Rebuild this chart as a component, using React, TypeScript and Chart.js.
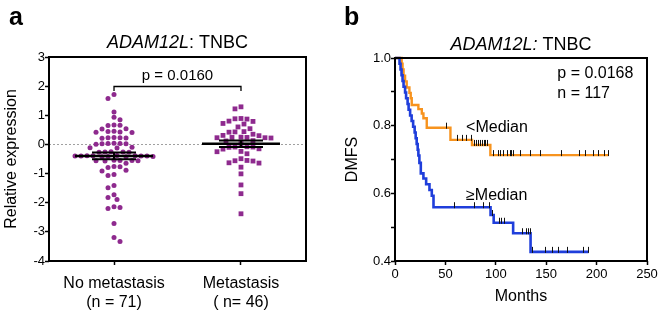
import React, { useEffect, useRef } from 'react';
import { Chart, registerables } from 'chart.js';

Chart.register(...registerables);

const FONT = "'Liberation Sans', Arial, Helvetica, sans-serif";
const PURPLE = '#8E2A8E';
const ORANGE = '#F7931E';
const BLUE = '#1F3EDB';

// ---------- Panel a : scatter (relative expression) ----------
const groupLabels: string[][] = [['No metastasis', '(n = 71)'], ['Metastasis', '( n= 46)']];
const noMetastasis: number[] = [
  1.71, 1.58, 1.11, 0.93, 0.85, 0.67, 0.66, 0.65, 0.54, 0.53,
  0.45, 0.44, 0.43, 0.42, 0.41, 0.24, 0.23, 0.23, 0.22, 0.21,
  0.04, 0.03, 0.03, 0.02, 0.02, 0.01, -0.1, -0.11, -0.12,
  -0.25, -0.26, -0.26, -0.27, -0.27,
  -0.38, -0.39, -0.39, -0.4, -0.4, -0.4, -0.41, -0.41, -0.42, -0.42, -0.4, -0.39,
  -0.54, -0.55, -0.55, -0.56, -0.56, -0.57, -0.65, -0.76, -0.77, -0.79,
  -0.89, -0.91, -1.03, -1.07, -1.41, -1.49, -1.73, -1.82, -1.89,
  -2.14, -2.16, -2.2, -2.71, -3.19, -3.33,
];
const metastasis: number[] = [
  1.29, 1.22, 0.89, 0.88, 0.87, 0.8, 0.79, 0.72, 0.7, 0.6, 0.54,
  0.44, 0.43, 0.42, 0.35, 0.31, 0.3, 0.25, 0.24, 0.24, 0.23, 0.23, 0.22,
  0.13, 0.12, 0.03, -0.08, -0.09, -0.09, -0.1, -0.15, -0.16, -0.24, -0.25,
  -0.32, -0.49, -0.55, -0.56, -0.57, -0.63, -0.64, -0.78, -1.01, -1.39, -1.69, -2.38,
];
const yRangeA = { min: -4, max: 3, step: 1 };
const pValueA = 'p = 0.0160';
const bracketLevel = 2.0;

// ---------- Panel b : Kaplan-Meier (DMFS) ----------
const lowTimes: number[] = [6.6, 7.5, 8.5, 10, 11.6, 14.3, 15.6, 16.6, 23.2, 26.6, 28.2, 31.5, 55, 76.4, 94.6];
const lowSurv: number[] = [0.983, 0.966, 0.948, 0.931, 0.913, 0.897, 0.881, 0.861, 0.849, 0.836, 0.822, 0.794, 0.758, 0.743, 0.713];
const lowEnd = 211.5;
const lowCensor: number[] = [
  50.8, 61.5, 66.4, 70.7, 75.7, 78, 80, 82, 84, 86.4, 88, 89.6, 91.3,
  97, 102, 104.6, 107.3, 111.3, 113.9, 115.5, 117, 124.5, 133.8, 143.7, 164.3,
  182.6, 188.2, 196.9, 201.5, 206.9, 211.5,
];
const highTimes: number[] = [
  4.5, 5.5, 6.5, 7.5, 8.5, 10, 11, 12.5, 13.5, 15, 16.5, 18, 19.5, 20.5, 21.5, 22.5,
  23.2, 24.2, 25.6, 28.2, 30.9, 34.2, 36.5, 38.2, 94.8, 97.9, 117.2, 134.5,
];
const highSurv: number[] = [
  0.983, 0.966, 0.949, 0.932, 0.915, 0.898, 0.881, 0.864, 0.847, 0.83, 0.814, 0.797, 0.78, 0.763, 0.746, 0.729,
  0.712, 0.69, 0.659, 0.644, 0.627, 0.61, 0.593, 0.559, 0.536, 0.513, 0.482, 0.427,
];
const highEnd = 192;
const highCensor: number[] = [
  58.8, 78, 87, 93, 96, 103, 105.6, 108.2, 126.2, 129.5, 131.8, 133.5,
  136.2, 149, 156, 162.2, 171, 187, 191.5,
];
const pValueB = 'p = 0.0168';
const nTotal = 'n = 117';
const lowLabel = '<Median';
const highLabel = '\u2265Median';

// ---------- helpers ----------
// Beeswarm layout: each value keeps its y; its horizontal offset is the smallest
// one (on a 3px lattice) that does not collide with points already placed.
const X_PX_PER_UNIT = 127;
const Y_PX_PER_UNIT = 29.1;
function beeswarm(values: number[], center: number, diameter: number, stepPx: number) {
  const sorted = [...values].sort((a, b) => b - a);
  const placed: { px: number; py: number }[] = [];
  const out: { x: number; y: number }[] = [];
  sorted.forEach((v, idx) => {
    const py = v * Y_PX_PER_UNIT;
    let best = 0;
    for (let k = 0; k < 60; k++) {
      const sign = idx % 2 === 0 ? 1 : -1;
      const cands = k === 0 ? [0] : [sign * k * stepPx, -sign * k * stepPx];
      let found: number | null = null;
      for (const c of cands) {
        if (placed.every((p) => Math.hypot(p.px - c, p.py - py) >= diameter)) {
          found = c;
          break;
        }
      }
      if (found !== null) {
        best = found;
        break;
      }
    }
    placed.push({ px: best, py });
    out.push({ x: center + best / X_PX_PER_UNIT, y: v });
  });
  return out;
}

function stats(vals: number[]) {
  const n = vals.length;
  const mean = vals.reduce((a, b) => a + b, 0) / n;
  const sd = Math.sqrt(vals.reduce((a, b) => a + (b - mean) * (b - mean), 0) / (n - 1));
  return { mean, sem: sd / Math.sqrt(n) };
}

function kmPoints(times: number[], surv: number[], end: number) {
  const pts = [{ x: 0, y: 1 }];
  times.forEach((t, i) => pts.push({ x: t, y: surv[i] }));
  pts.push({ x: end, y: surv[surv.length - 1] });
  return pts;
}

function survivalAt(times: number[], surv: number[], t: number) {
  let s = 1;
  times.forEach((tt, i) => {
    if (tt <= t) s = surv[i];
  });
  return s;
}

function seg(ctx: CanvasRenderingContext2D, x1: number, y1: number, x2: number, y2: number) {
  ctx.beginPath();
  ctx.moveTo(x1, y1);
  ctx.lineTo(x2, y2);
  ctx.stroke();
}

function drawFrame(chart: any) {
  const { ctx, chartArea } = chart;
  const { left, right, top, bottom } = chartArea;
  ctx.save();
  ctx.strokeStyle = '#000';
  ctx.lineWidth = 2;
  ctx.strokeRect(Math.round(left), Math.round(top), Math.round(right) - Math.round(left), Math.round(bottom) - Math.round(top));
  ctx.restore();
}

function drawTitle(chart: any, italicPart: string, rest: string, offset: number) {
  const { ctx, chartArea } = chart;
  ctx.save();
  const fi = `italic 18px ${FONT}`;
  const fn = `18px ${FONT}`;
  ctx.font = fi;
  const w1 = ctx.measureText(italicPart).width;
  ctx.font = fn;
  const w2 = ctx.measureText(rest).width;
  const x = (chartArea.left + chartArea.right) / 2 - (w1 + w2) / 2;
  const y = chartArea.top - offset;
  ctx.fillStyle = '#000';
  ctx.textAlign = 'left';
  ctx.textBaseline = 'alphabetic';
  ctx.font = fi;
  ctx.fillText(italicPart, x, y);
  ctx.font = fn;
  ctx.fillText(rest, x + w1, y);
  ctx.restore();
}

function drawLetter(chart: any, letter: string, x: number) {
  const { ctx } = chart;
  ctx.save();
  ctx.fillStyle = '#000';
  ctx.font = `bold 25px ${FONT}`;
  ctx.textAlign = 'left';
  ctx.textBaseline = 'alphabetic';
  ctx.fillText(letter, x, 25);
  ctx.restore();
}

const groups = [noMetastasis, metastasis];

const panelAPlugin = {
  id: 'panelA',
  beforeDatasetsDraw(chart: any) {
    const { ctx, chartArea, scales } = chart;
    const y0 = Math.round(scales.y.getPixelForValue(0)) + 0.5;
    ctx.save();
    ctx.strokeStyle = '#888';
    ctx.lineWidth = 0.8;
    ctx.setLineDash([2, 2]);
    seg(ctx, chartArea.left, y0, chartArea.right, y0);
    ctx.restore();
  },
  afterDatasetsDraw(chart: any) {
    const { ctx, scales } = chart;
    const xs = scales.x;
    const ys = scales.y;
    ctx.save();
    ctx.strokeStyle = '#000';
    groups.forEach((vals, i) => {
      const { mean, sem } = stats(vals);
      const cx = xs.getPixelForValue(i + 1);
      const my = ys.getPixelForValue(mean);
      const ty = ys.getPixelForValue(mean + sem);
      const by = ys.getPixelForValue(mean - sem);
      ctx.lineWidth = 2.5;
      seg(ctx, cx - 39, my, cx + 39, my);
      ctx.lineWidth = 2;
      seg(ctx, cx, ty, cx, by);
      seg(ctx, cx - 22, ty, cx + 22, ty);
      seg(ctx, cx - 22, by, cx + 22, by);
    });
    // significance bracket
    const x1 = xs.getPixelForValue(1);
    const x2 = xs.getPixelForValue(2);
    const yb = Math.round(ys.getPixelForValue(bracketLevel)) + 0.5;
    const yd = ys.getPixelForValue(bracketLevel - 0.17);
    ctx.lineWidth = 1.3;
    ctx.beginPath();
    ctx.moveTo(x1, yd);
    ctx.lineTo(x1, yb);
    ctx.lineTo(x2, yb);
    ctx.lineTo(x2, yd);
    ctx.stroke();
    ctx.fillStyle = '#000';
    ctx.font = `15px ${FONT}`;
    ctx.textAlign = 'center';
    ctx.textBaseline = 'alphabetic';
    ctx.fillText(pValueA, xs.getPixelForValue(1.5), ys.getPixelForValue(bracketLevel + 0.22));
    ctx.restore();
  },
  afterDraw(chart: any) {
    drawFrame(chart);
    drawTitle(chart, 'ADAM12L', ': TNBC', 9);
    drawLetter(chart, 'a', 9);
  },
};

const panelBPlugin = {
  id: 'panelB',
  afterDatasetsDraw(chart: any) {
    const { ctx, scales } = chart;
    const xs = scales.x;
    const ys = scales.y;
    ctx.save();
    ctx.strokeStyle = '#111';
    ctx.lineWidth = 1;
    const sets: [number[], number[], number[]][] = [
      [lowCensor, lowTimes, lowSurv],
      [highCensor, highTimes, highSurv],
    ];
    sets.forEach(([cens, times, surv]) => {
      cens.forEach((t) => {
        const px = Math.round(xs.getPixelForValue(t)) + 0.5;
        const py = ys.getPixelForValue(survivalAt(times, surv, t));
        seg(ctx, px, py + 1, px, py - 5);
      });
    });
    ctx.restore();
  },
  afterDraw(chart: any) {
    const { ctx, scales } = chart;
    const xs = scales.x;
    const ys = scales.y;
    drawFrame(chart);
    drawTitle(chart, 'ADAM12L:', ' TNBC', 8);
    drawLetter(chart, 'b', 13);
    ctx.save();
    ctx.fillStyle = '#000';
    ctx.font = `16px ${FONT}`;
    ctx.textAlign = 'left';
    ctx.textBaseline = 'alphabetic';
    ctx.fillText(pValueB, xs.getPixelForValue(161), ys.getPixelForValue(0.94));
    ctx.fillText(nTotal, xs.getPixelForValue(161), ys.getPixelForValue(0.881));
    ctx.fillText(lowLabel, xs.getPixelForValue(70.5), ys.getPixelForValue(0.782));
    ctx.fillText(highLabel, xs.getPixelForValue(70.5), ys.getPixelForValue(0.58));
    ctx.restore();
  },
};

const tickGrid = {
  display: true,
  drawOnChartArea: false,
  drawTicks: true,
  tickLength: 4,
  tickWidth: 1.5,
  tickColor: '#000',
};

function configA(): any {
  return {
    type: 'scatter',
    data: {
      datasets: [
        {
          data: beeswarm(noMetastasis, 1, 5.2, 3),
          pointStyle: 'circle',
          pointRadius: 2.5,
          backgroundColor: PURPLE,
          borderWidth: 0,
        },
        {
          data: beeswarm(metastasis, 2, 5.6, 3),
          pointStyle: 'rect',
          pointRadius: 3.4,
          backgroundColor: PURPLE,
          borderWidth: 0,
        },
      ],
    },
    options: {
      animation: false,
      responsive: false,
      events: [],
      layout: { padding: { top: 57, right: 25, left: 0, bottom: 0 } },
      plugins: { legend: { display: false }, tooltip: { enabled: false } },
      scales: {
        x: {
          type: 'linear',
          min: 0.488,
          max: 2.512,
          afterBuildTicks: (s: any) => {
            s.ticks = [{ value: 1 }, { value: 2 }];
          },
          ticks: {
            callback: (v: any) => groupLabels[Math.round(Number(v)) - 1],
            font: { family: FONT, size: 16 },
            color: '#000',
            padding: 9,
            maxRotation: 0,
            autoSkip: false,
          },
          grid: tickGrid,
          border: { display: false },
          afterFit: (s: any) => {
            s.height = 56;
          },
        },
        y: {
          min: yRangeA.min,
          max: yRangeA.max,
          ticks: { stepSize: yRangeA.step, font: { family: FONT, size: 13 }, color: '#000', padding: 0 },
          grid: tickGrid,
          border: { display: false },
          title: {
            display: true,
            text: 'Relative expression',
            font: { family: FONT, size: 16 },
            color: '#000',
            padding: { top: 1.5, bottom: 0 },
          },
          afterFit: (s: any) => {
            s.width = 49;
          },
        },
      },
    },
    plugins: [panelAPlugin],
  };
}

function configB(): any {
  return {
    type: 'line',
    data: {
      datasets: [
        {
          data: kmPoints(highTimes, highSurv, highEnd),
          borderColor: BLUE,
          borderWidth: 2.6,
          stepped: 'before',
          pointRadius: 0,
          fill: false,
          clip: 6,
          order: 0,
        },
        {
          data: kmPoints(lowTimes, lowSurv, lowEnd),
          borderColor: ORANGE,
          borderWidth: 2.4,
          stepped: 'before',
          pointRadius: 0,
          fill: false,
          clip: 6,
          order: 1,
        },
      ],
    },
    options: {
      animation: false,
      responsive: false,
      events: [],
      layout: { padding: { top: 58, right: 16, left: 0, bottom: 0 } },
      plugins: { legend: { display: false }, tooltip: { enabled: false } },
      scales: {
        x: {
          type: 'linear',
          min: 0,
          max: 250,
          ticks: { stepSize: 50, font: { family: FONT, size: 13 }, color: '#000', padding: 2, maxRotation: 0 },
          grid: tickGrid,
          border: { display: false },
          title: {
            display: true,
            text: 'Months',
            font: { family: FONT, size: 16 },
            color: '#000',
            padding: { top: 0, bottom: 11 },
          },
          afterFit: (s: any) => {
            s.height = 56;
          },
        },
        y: {
          min: 0.4,
          max: 1.0,
          ticks: {
            stepSize: 0.1,
            font: { family: FONT, size: 13 },
            color: '#000',
            padding: 0,
            callback: (v: any) => {
              const k = Math.round(Number(v) * 10);
              return k % 2 === 0 ? (k / 10).toFixed(1) : '';
            },
          },
          grid: tickGrid,
          border: { display: false },
          title: {
            display: true,
            text: 'DMFS',
            font: { family: FONT, size: 16 },
            color: '#000',
            padding: { top: 12, bottom: 0 },
          },
          afterFit: (s: any) => {
            s.width = 64;
          },
        },
      },
    },
    plugins: [panelBPlugin],
  };
}

export default function App() {
  const refA = useRef<HTMLCanvasElement>(null);
  const refB = useRef<HTMLCanvasElement>(null);
  useEffect(() => {
    const a = new Chart(refA.current as HTMLCanvasElement, configA());
    const b = new Chart(refB.current as HTMLCanvasElement, configB());
    return () => {
      a.destroy();
      b.destroy();
    };
  }, []);
  return (
    <div style={{ position: 'absolute', left: 0, top: 0, width: 663, height: 317, background: '#fff' }}>
      <canvas
        ref={refA}
        width={331}
        height={317}
        style={{ position: 'absolute', left: 0, top: 0, width: 331, height: 317 }}
      />
      <canvas
        ref={refB}
        width={332}
        height={317}
        style={{ position: 'absolute', left: 331, top: 0, width: 332, height: 317 }}
      />
    </div>
  );
}
